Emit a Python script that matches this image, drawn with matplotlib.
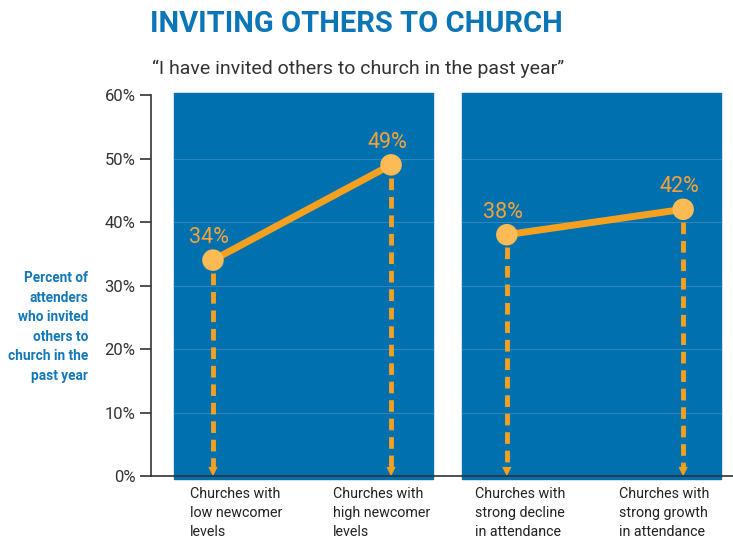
import matplotlib.pyplot as plt

categories = ["Churches with\nlow newcomer\nlevels",
              "Churches with\nhigh newcomer\nlevels",
              "Churches with\nstrong decline\nin attendance",
              "Churches with\nstrong growth\nin attendance"]
left_values = [34, 49]
right_values = [38, 42]
yticks = [0, 10, 20, 30, 40, 50, 60]

plt.rcParams["font.family"] = ["Roboto", "DejaVu Sans"]

blue = "#0070ae"
grid_blue = "#2a86bd"
orange = "#f5a01f"
light_orange = "#fdbb55"
dark = "#333333"

# x positions of the four groups and their labels (layout)
xs_left = [0, 1]
xs_right = [1.65, 2.64]
label_x = [-0.129, 0.674, 1.47, 2.28]

fig = plt.figure(figsize=(7.33, 5.38), dpi=100)
ax = fig.add_axes([0.206, 0.1152, 0.794, 0.7082])
ax.set_xlim(-0.348, 2.92)
ax.set_ylim(0, 60)

# blue panels
for x0, x1 in [(-0.219, 1.236), (1.399, 2.854)]:
    ax.fill_between([x0, x1], -0.4, 60.3, color=blue, zorder=0, clip_on=False)
    for y in yticks[1:-1]:
        ax.plot([x0, x1], [y, y], color=grid_blue, lw=0.8, zorder=1)

for xs, vals in [(xs_left, left_values), (xs_right, right_values)]:
    ax.plot(xs, vals, color=orange, lw=5, zorder=3, solid_capstyle="round")
    ax.scatter(xs, vals, s=240, color=light_orange, zorder=4, edgecolors="none")
    for x, v in zip(xs, vals):
        ax.plot([x, x], [v - 2, 1.2], color=orange, lw=3.5, ls=(0, (2.4, 1.4)), zorder=2)
        ax.scatter([x], [0.7], marker="v", s=45, color=orange, zorder=2, edgecolors="none")
        ax.text(x - 0.02, v + 1.9, f"{v}%", color="#f2a43a", fontsize=15.5,
                ha="center", va="bottom", zorder=5)

ax.set_yticks(yticks)
ax.set_yticklabels([f"{t}%" for t in yticks], fontsize=12, color=dark)
ax.tick_params(axis="y", direction="out", length=8, width=1.2, color=dark, pad=3)
ax.set_xticks([])
for s in ["top", "right"]:
    ax.spines[s].set_visible(False)
ax.spines["left"].set_color(dark)
ax.spines["left"].set_linewidth(1.2)
ax.spines["bottom"].set_color(dark)
ax.spines["bottom"].set_linewidth(1.2)

# category labels under each group
for x, lab in zip(label_x, categories):
    ax.text(x, -1.8, lab, fontsize=10.3, color="#222222", ha="left", va="top",
            linespacing=1.42)

fig.text(0.205, 0.955, "INVITING OTHERS TO CHURCH", fontsize=21, fontweight="bold",
         color="#0a76b7", ha="left", va="center")
fig.text(0.208, 0.873, "\u201cI have invited others to church in the past year\u201d",
         fontsize=14, color=dark, ha="left", va="center")
fig.text(0.12, 0.392, "Percent of\nattenders\nwho invited\nothers to\nchurch in the\npast year",
         fontsize=9.8, fontweight="bold", color="#1278b8", ha="right", va="center",
         linespacing=1.5)

fig.savefig("out.png", dpi=100)
